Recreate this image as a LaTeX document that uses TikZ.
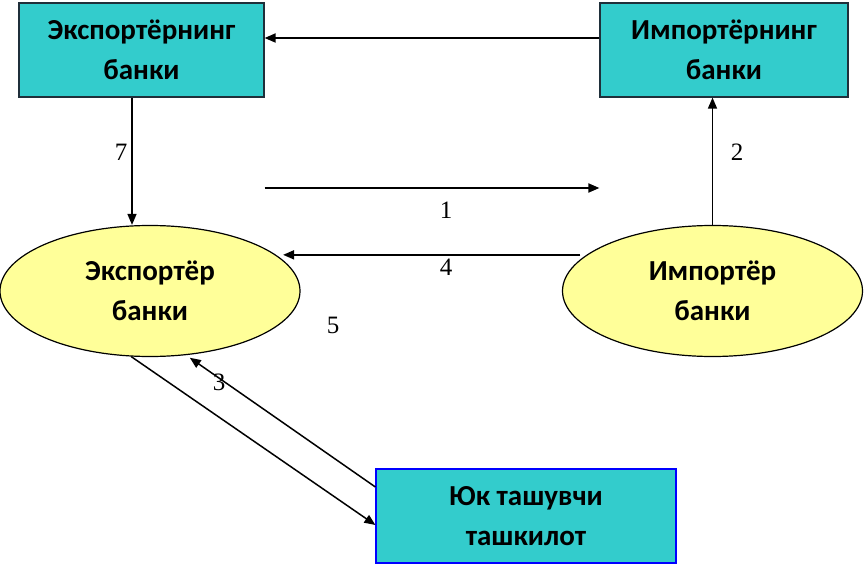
\documentclass[tikz,border=0pt]{standalone}
\usepackage{fontspec}
\setmainfont{Liberation Serif}
\newfontfamily\boxfont{Carlito}
\usepackage{tikz}
\usetikzlibrary{arrows.meta,positioning,calc,shapes.geometric}
\definecolor{lcteal}{HTML}{33CCCC}
\definecolor{lcyellow}{HTML}{FFFF99}
\definecolor{lcblue}{HTML}{0000FF}
\definecolor{lcink}{HTML}{000000}
\definecolor{lcedge}{HTML}{1F2F3A}
\tikzset{
  bx/.style={align=center, font=\boxfont\bfseries\fontsize{29}{40}\selectfont, inner sep=0pt},
  bank/.style={bx, rectangle, draw=lcedge, line width=1.2pt, fill=lcteal, minimum width=245pt, minimum height=94pt},
  firm/.style={bx, ellipse, draw=lcink, line width=1.2pt, fill=lcyellow, minimum width=300pt, minimum height=131pt},
  carrier/.style={bank, draw=lcblue},
  arr/.style={-{Triangle[length=11pt,width=9pt]}, line width=1.5pt, color=lcink},
  num/.style={font=\fontsize{25}{27}\selectfont, inner sep=0pt},
}
\begin{document}
\begin{tikzpicture}[x=1pt, y=-1pt]
    \useasboundingbox (0,0) rectangle (864,564);
    % banks on top
    \node[bank] (expb) at (141.5,50) {Экспортёрнинг\\банки};
    \node[bank, minimum width=248pt] (impb) at (724,50) {Импортёрнинг\\банки};
    % exporter and importer
    \node[firm] (expo) at (150,291) {Экспортёр\\банки};
    \node[firm] (impo) at (712.5,291) {Импортёр\\банки};
    % carrier
    \node[carrier, minimum width=300pt] (carg) at (526,516) {Юк ташувчи\\ташкилот};
    % connectors
    \draw[arr, line width=1.8pt] ([yshift=12pt]impb.west) -- ([yshift=12pt]expb.east);
    \draw[arr] (expb.south -| 132,0) -- (expo.north -| 132,0);
    \draw[arr] (impo.north) -- (impo.north |- impb.south);
    \draw[arr, line width=1.8pt] (expb.east |- 0,188) -- (impb.west |- 0,188);
    \draw[arr, line width=1.8pt] ([xshift=-6pt]impo.164) -- ([xshift=7pt]expo.16);
    \draw[arr] (expo.254) -- ([yshift=-9pt]carg.west);
    \draw[arr] ([yshift=29pt]carg.west) -- ([yshift=-3pt]expo.302);
    % step numbers
    \node[num] (n7) at (121,152) {7};
    \node[num] (n2) at (737,152) {2};
    \node[num] (n1) at (446,210) {1};
    \node[num] (n4) at (446,267) {4};
    \node[num] (n5) at (333,325) {5};
    \node[num] (n3) at (219,382) {3};
\end{tikzpicture}
\end{document}
